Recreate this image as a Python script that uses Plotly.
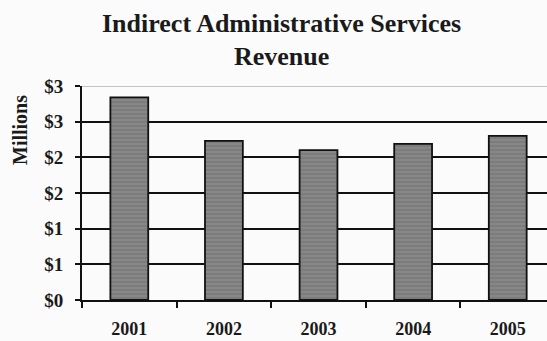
import plotly.graph_objects as go

years = ["2001", "2002", "2003", "2004", "2005"]
revenue_millions = [2.84, 2.23, 2.10, 2.19, 2.30]
tick_values = [0, 0.5, 1.0, 1.5, 2.0, 2.5, 3.0]
tick_labels = ["$0", "$1", "$1", "$2", "$2", "$3", "$3"]

serif = "Liberation Serif, Times New Roman, serif"

fig = go.Figure()
fig.add_trace(go.Bar(
    x=years,
    y=revenue_millions,
    width=0.4,
    marker=dict(
        color="#7c7c7c",
        line=dict(color="#111111", width=1.8),
        pattern=dict(shape="-", bgcolor="#7c7c7c", fgcolor="#9a9a9a",
                     size=4, solidity=0.35),
    ),
    hoverinfo="skip",
))

# light reference line at the top of the value range
fig.add_shape(type="line", xref="paper", yref="y", x0=0, x1=1, y0=3.0, y1=3.0,
              line=dict(color="#b0b0b0", width=1.5), layer="below")

fig.update_layout(
    width=547, height=341,
    margin=dict(l=82, r=0, t=86, b=41),
    paper_bgcolor="#fbfbfb",
    plot_bgcolor="#fbfbfb",
    showlegend=False,
    annotations=[
        dict(text="Indirect Administrative Services", xref="paper", yref="paper",
             x=(281 - 82) / 465, y=1 + (86 - 23) / 214, xanchor="center", yanchor="middle",
             showarrow=False,
             font=dict(family=serif, size=26, weight="bold", color="#1a1a1a")),
        dict(text="Revenue", xref="paper", yref="paper",
             x=(281 - 82) / 465, y=1 + (86 - 57) / 214, xanchor="center", yanchor="middle",
             showarrow=False,
             font=dict(family=serif, size=26, weight="bold", color="#1a1a1a")),
        dict(text="Millions", xref="paper", yref="paper", textangle=-90,
             x=-(82 - 20) / 465, y=(300 - 130) / 214, xanchor="center", yanchor="middle",
             showarrow=False,
             font=dict(family=serif, size=20, weight="bold", color="#1a1a1a")),
    ],
)

fig.update_xaxes(
    type="category",
    range=[-0.5, 4.415],
    automargin=False,
    showline=True, linecolor="#111111", linewidth=2,
    ticks="outside", tickson="boundaries", ticklen=6, tickwidth=1.5, tickcolor="#111111",
    ticklabelstandoff=11,
    tickfont=dict(family=serif, size=18, weight="bold", color="#1a1a1a"),
    showgrid=False,
)
fig.update_yaxes(
    range=[0, 3.0],
    automargin=False,
    tickvals=tick_values,
    ticktext=tick_labels,
    showline=True, linecolor="#111111", linewidth=2,
    ticks="outside", ticklen=5, tickwidth=1.5, tickcolor="#111111",
    ticklabelstandoff=8,
    tickfont=dict(family=serif, size=19, weight="bold", color="#1a1a1a"),
    showgrid=True, gridcolor="#111111", gridwidth=1.8,
    zeroline=False,
)

fig.write_html("out.html")
